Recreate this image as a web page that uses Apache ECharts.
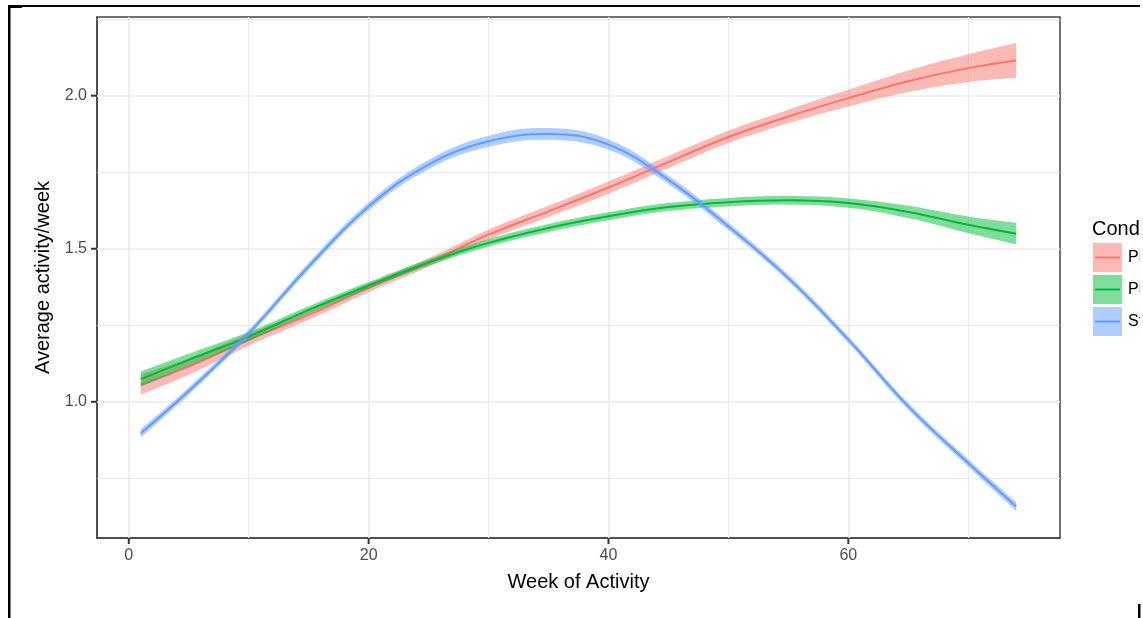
<!DOCTYPE html>
<html>
<head>
<meta charset="utf-8">
<title>Average activity per week</title>
<script src="https://cdn.jsdelivr.net/npm/echarts@6/dist/echarts.min.js"></script>
<style>
  html, body { margin: 0; padding: 0; background: #fff; }
  #chart { width: 1143px; height: 618px; }
</style>
</head>
<body>
<div id="chart"></div>
<script>
const weeks = [1, 5, 10, 15, 20, 25, 30, 35, 40, 45, 50, 55, 60, 65, 70, 74]
const conditions = ['Placebo', 'Planning', 'Standard']

// fitted means and half widths of the confidence ribbons
const redFit = [1.056, 1.115, 1.203, 1.284, 1.372, 1.455, 1.546, 1.622, 1.700, 1.783, 1.865, 1.932, 1.992, 2.047, 2.090, 2.115]
const redHalf = [0.033, 0.027, 0.020, 0.016, 0.014, 0.014, 0.016, 0.018, 0.020, 0.020, 0.020, 0.022, 0.027, 0.035, 0.045, 0.057]
const greenFit = [1.074, 1.137, 1.213, 1.300, 1.380, 1.455, 1.519, 1.568, 1.606, 1.636, 1.652, 1.658, 1.649, 1.620, 1.578, 1.549]
const greenHalf = [0.025, 0.020, 0.015, 0.012, 0.011, 0.011, 0.012, 0.013, 0.013, 0.013, 0.014, 0.014, 0.015, 0.020, 0.027, 0.035]
const blueFit = [0.897, 1.035, 1.224, 1.442, 1.638, 1.775, 1.851, 1.875, 1.840, 1.725, 1.573, 1.404, 1.203, 0.985, 0.800, 0.658]
const blueHalf = [0.014, 0.012, 0.011, 0.012, 0.013, 0.015, 0.018, 0.019, 0.017, 0.014, 0.012, 0.011, 0.011, 0.011, 0.012, 0.014]

const xTicks = [0, 20, 40, 60]
const xMinor = [10, 30, 50, 70]
const yTicks = [1.0, 1.5, 2.0]
const yMinor = [0.75, 1.25, 1.75, 2.25]
const xMin = -2.65
const xMax = 77.65
const yMin = 0.555
const yMax = 2.257

const gridBox = { left: 97, top: 17, width: 963, height: 521 }
const colors = ['#F8766D', '#00BA38', '#619CFF']
const fills = ['rgba(248,118,109,0.5)', 'rgba(0,186,56,0.5)', 'rgba(97,156,255,0.5)']
const font = 'Liberation Sans, Arial, sans-serif'
const SMOOTH = 0.4

const chart = echarts.init(document.getElementById('chart'))

// bezier path through pixel points, same weighting as the line series smoothing
function smoothPath(pts, first) {
  let d = (first ? 'M' : 'L') + pts[0][0] + ' ' + pts[0][1]
  const cp = (i, dir) => {
    const p = pts[i]
    if (i === 0 || i === pts.length - 1) return p
    const prev = pts[i - 1]
    const next = pts[i + 1]
    const lp = Math.hypot(p[0] - prev[0], p[1] - prev[1])
    const ln = Math.hypot(next[0] - p[0], next[1] - p[1])
    const r = dir > 0 ? ln / (lp + ln) : lp / (lp + ln)
    return [p[0] + dir * (next[0] - prev[0]) * SMOOTH * r, p[1] + dir * (next[1] - prev[1]) * SMOOTH * r]
  }
  for (let i = 0; i < pts.length - 1; i++) {
    const a = cp(i, 1)
    const b = cp(i + 1, -1)
    d += ' C' + a[0] + ' ' + a[1] + ' ' + b[0] + ' ' + b[1] + ' ' + pts[i + 1][0] + ' ' + pts[i + 1][1]
  }
  return d
}

function ribbon(mean, half, fill, z) {
  return {
    type: 'custom',
    silent: true,
    z: z,
    data: [[weeks[0], mean[0]]],
    renderItem: (params, api) => {
      const upper = weeks.map((w, i) => api.coord([w, mean[i] + half[i]]))
      const lower = weeks.map((w, i) => api.coord([w, mean[i] - half[i]])).reverse()
      return {
        type: 'path',
        shape: { pathData: smoothPath(upper, true) + ' ' + smoothPath(lower, false) + ' Z' },
        style: { fill: fill }
      }
    }
  }
}

function fitLine(name, mean, color, z) {
  return {
    name: name,
    type: 'line',
    z: z,
    data: weeks.map((w, i) => [w, mean[i]]),
    smooth: SMOOTH,
    symbol: 'none',
    lineStyle: { color: color, width: 2 }
  }
}

const gridLine = (w) => ({ color: '#EBEBEB', width: w, type: 'solid' })

function getOptions() {
  return {
    backgroundColor: '#fff',
    animation: false,
    textStyle: { fontFamily: font },
    grid: {
      ...gridBox,
      show: true,
      backgroundColor: 'transparent',
      borderColor: '#444',
      borderWidth: 1.5
    },
    xAxis: {
      type: 'value',
      min: xMin,
      max: xMax,
      name: 'Week of Activity',
      nameLocation: 'middle',
      nameGap: 34,
      nameTextStyle: { fontSize: 20, color: '#000', fontFamily: font },
      axisLine: { show: true, onZero: false, lineStyle: { color: '#444', width: 1.5 } },
      axisTick: { show: false },
      axisLabel: { customValues: xTicks, fontSize: 16, color: '#4D4D4D', margin: 10, fontFamily: font },
      splitLine: { show: false }
    },
    yAxis: {
      type: 'value',
      min: yMin,
      max: yMax,
      name: 'Average activity/week',
      nameLocation: 'middle',
      nameGap: 43,
      nameTextStyle: { fontSize: 20, color: '#000', fontFamily: font },
      axisLine: { show: true, onZero: false, lineStyle: { color: '#444', width: 1.5 } },
      axisTick: { show: false },
      axisLabel: {
        customValues: yTicks,
        fontSize: 16,
        color: '#4D4D4D',
        margin: 10,
        fontFamily: font,
        formatter: (v) => v.toFixed(1)
      },
      splitLine: { show: false }
    },
    series: [
      {
        type: 'line',
        data: [],
        z: 1,
        markLine: {
          z: 1,
          silent: true,
          symbol: ['none', 'none'],
          label: { show: false },
          lineStyle: { type: 'solid', color: '#EBEBEB' },
          data: [
            ...xMinor.map((v) => ({ xAxis: v, lineStyle: gridLine(1.2) })),
            ...yMinor.map((v) => ({ yAxis: v, lineStyle: gridLine(1.2) })),
            ...xTicks.map((v) => ({ xAxis: v, lineStyle: gridLine(1.6) })),
            ...yTicks.map((v) => ({ yAxis: v, lineStyle: gridLine(1.6) }))
          ]
        }
      },
      ribbon(redFit, redHalf, fills[0], 2),
      fitLine(conditions[0], redFit, colors[0], 3),
      ribbon(greenFit, greenHalf, fills[1], 4),
      fitLine(conditions[1], greenFit, colors[1], 5),
      ribbon(blueFit, blueHalf, fills[2], 6),
      fitLine(conditions[2], blueFit, colors[2], 7)
    ]
  }
}

chart.setOption(getOptions())

// pixel position of a data point, falling back to the grid's linear mapping
function toPixel(x, y) {
  let p = null
  try {
    p = chart.convertToPixel({ gridIndex: 0 }, [x, y])
  } catch (e) {
    p = null
  }
  if (!p || !isFinite(p[0]) || !isFinite(p[1])) {
    p = [
      gridBox.left + (x - xMin) / (xMax - xMin) * gridBox.width,
      gridBox.top + (yMax - y) / (yMax - yMin) * gridBox.height
    ]
  }
  return p
}

// everything drawn on top of the grid: ticks, legend and the screenshot frame
const overlay = []
xTicks.forEach((v) => {
  const p = toPixel(v, yMin)
  overlay.push({ type: 'rect', shape: { x: p[0] - 1, y: p[1] + 0.5, width: 2, height: 5.5 }, style: { fill: '#333' } })
})
yTicks.forEach((v) => {
  const p = toPixel(xMin, v)
  overlay.push({ type: 'rect', shape: { x: p[0] - 6, y: p[1] - 1, width: 5.5, height: 2 }, style: { fill: '#333' } })
})

// legend (cut off by the right edge of the screenshot)
overlay.push({
  type: 'group',
  left: 1092,
  top: 219,
  children: [
    { type: 'text', x: 0, y: 0, style: { text: 'Condition', font: '20px ' + font, fill: '#000' } },
    ...conditions.map((c, i) => ({
      type: 'group',
      y: 24 + i * 32,
      children: [
        { type: 'rect', shape: { x: 1, y: 0, width: 29, height: 29 }, style: { fill: fills[i] } },
        { type: 'line', shape: { x1: 3, y1: 14.5, x2: 28, y2: 14.5 }, style: { stroke: colors[i], lineWidth: 2 } },
        { type: 'text', x: 36, y: 14.5, style: { text: c, font: '16px ' + font, fill: '#000', verticalAlign: 'middle' } }
      ]
    }))
  ]
})

// outer frame of the screenshot, cropped at x = 1140
overlay.push(
  { type: 'rect', shape: { x: 1140, y: 0, width: 3, height: 618 }, style: { fill: '#fff' } },
  { type: 'rect', shape: { x: 8, y: 5, width: 1132, height: 2 }, style: { fill: '#000' } },
  { type: 'rect', shape: { x: 8, y: 5, width: 14, height: 3 }, style: { fill: '#000' } },
  { type: 'rect', shape: { x: 8, y: 5, width: 2.5, height: 613 }, style: { fill: '#000' } },
  { type: 'rect', shape: { x: 1138, y: 604, width: 2.5, height: 14 }, style: { fill: '#000' } }
)

chart.setOption({ graphic: { elements: overlay.map((e) => Object.assign({ silent: true, z: 100 }, e)) } })
</script>
</body>
</html>
